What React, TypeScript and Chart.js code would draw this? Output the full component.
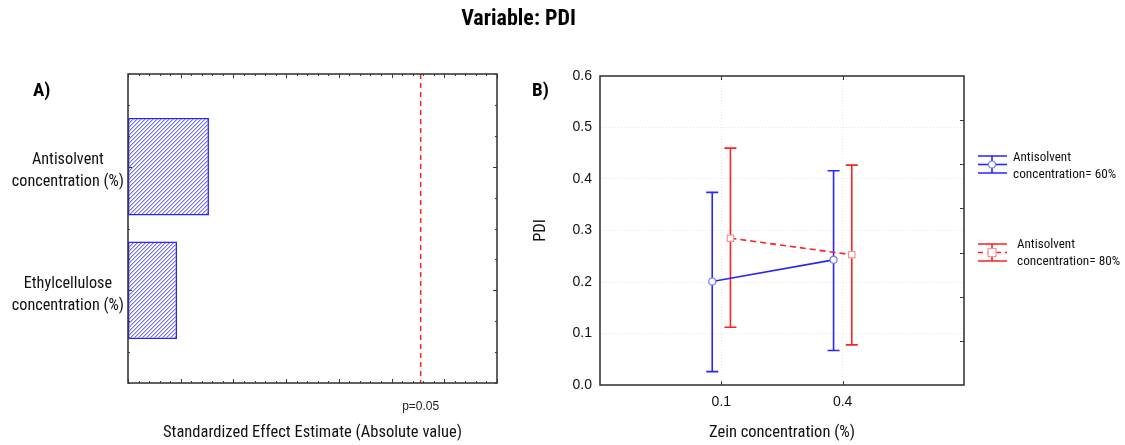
import React, { useEffect, useRef } from 'react';
import { Chart, registerables } from 'chart.js';

Chart.register(...registerables);

const NARROW = '"Roboto Condensed", "Open Sans Condensed", "DejaVu Sans Condensed", sans-serif';
const SANS = '"Liberation Sans", Arial, sans-serif';

// ---------- Panel A data ----------
const effectLabels: string[][] = [
  ['Antisolvent', 'concentration (%)'],
  ['Ethylcellulose', 'concentration (%)'],
];
const effectValues = [0.768, 0.465];
const pCritical = 2.776;
const pLabel = 'p=0.05';
const effectAxisMin = 0;
const effectAxisMax = 3.5;

// ---------- Panel B data ----------
const zeinLabels = ['0.1', '0.4'];
const series60Mean = [0.201, 0.243];
const series60Low = [0.026, 0.067];
const series60High = [0.374, 0.416];
const series80Mean = [0.285, 0.253];
const series80Low = [0.112, 0.078];
const series80High = [0.46, 0.427];
const pdiTicks = [0, 0.1, 0.2, 0.3, 0.4, 0.5, 0.6];
const legendLabels: string[][] = [
  ['Antisolvent', 'concentration= 60%'],
  ['Antisolvent', 'concentration= 80%'],
];

const BLUE = '#2626ff';
const RED = '#ff2020';
const FRAME = '#3a3a3a';
const DODGE = 0.075;
const LABEL_SHIFT = 0.035;

function makeHatch(ctx: CanvasRenderingContext2D) {
  const n = 4;
  const c = document.createElement('canvas');
  c.width = n;
  c.height = n;
  const g = c.getContext('2d')!;
  g.fillStyle = '#ffffff';
  g.fillRect(0, 0, n, n);
  for (let i = 0; i < n; i++) {
    g.fillStyle = 'rgb(115,115,255)';
    g.fillRect(i, n - 1 - i, 1, 1);
    g.fillStyle = 'rgb(190,190,255)';
    g.fillRect((i + 1) % n, n - 1 - i, 1, 1);
  }
  return ctx.createPattern(c, 'repeat');
}

const frameA = {
  id: 'frameA',
  afterDatasetsDraw(chart: any) {
    const { ctx, chartArea: a, scales } = chart;
    const xs = scales.x;
    const ys = scales.y;
    ctx.save();
    ctx.strokeStyle = FRAME;
    ctx.lineWidth = 1;
    ctx.beginPath();
    for (let k = 0; k <= 35; k++) {
      const px = Math.round(xs.getPixelForValue(k / 10)) + 0.5;
      const len = k % 5 === 0 ? 4 : 2;
      ctx.moveTo(px, a.top);
      ctx.lineTo(px, a.top + len);
      ctx.moveTo(px, a.bottom);
      ctx.lineTo(px, a.bottom - len);
    }
    for (let k = -3; k <= 7; k++) {
      const py = Math.round(ys.getPixelForValue(k / 4)) + 0.5;
      const len = k % 4 === 0 ? 4 : 2;
      ctx.moveTo(a.left, py);
      ctx.lineTo(a.left + len, py);
      ctx.moveTo(a.right, py);
      ctx.lineTo(a.right - len, py);
    }
    ctx.stroke();
    ctx.lineWidth = 1.6;
    ctx.strokeRect(a.left, a.top, a.right - a.left, a.bottom - a.top);
    ctx.restore();
  },
};

const errorBars = {
  id: 'errorBars',
  beforeDatasetsDraw(chart: any) {
    const { ctx } = chart;
    const ys = chart.scales.y;
    chart.data.datasets.forEach((ds: any, di: number) => {
      const meta = chart.getDatasetMeta(di);
      meta.data.forEach((pt: any, i: number) => {
        const x = pt.x;
        const yl = ys.getPixelForValue(ds.errLow[i]);
        const yh = ys.getPixelForValue(ds.errHigh[i]);
        ctx.save();
        ctx.strokeStyle = ds.borderColor;
        ctx.lineWidth = 1.6;
        ctx.setLineDash([]);
        ctx.beginPath();
        ctx.moveTo(x, yl);
        ctx.lineTo(x, yh);
        ctx.moveTo(x - 6, yl);
        ctx.lineTo(x + 6, yl);
        ctx.moveTo(x - 6, yh);
        ctx.lineTo(x + 6, yh);
        ctx.stroke();
        ctx.restore();
      });
    });
  },
};

const frameB = {
  id: 'frameB',
  afterDatasetsDraw(chart: any) {
    const { ctx, chartArea: a, scales } = chart;
    const xs = scales.x;
    const ys = scales.y;
    ctx.save();
    ctx.strokeStyle = FRAME;
    ctx.lineWidth = 1;
    ctx.beginPath();
    zeinLabels.forEach((_, i) => {
      const px = Math.round(xs.getPixelForValue(i + 1)) + 0.5;
      ctx.moveTo(px, a.top);
      ctx.lineTo(px, a.top + 4);
      ctx.moveTo(px, a.bottom);
      ctx.lineTo(px, a.bottom - 4);
    });
    for (let k = 1; k < 7; k++) {
      const py = Math.round(ys.getPixelForValue((0.6 * k) / 7)) + 0.5;
      ctx.moveTo(a.right, py);
      ctx.lineTo(a.right - 4, py);
    }
    ctx.stroke();
    ctx.lineWidth = 1.6;
    ctx.strokeRect(a.left, a.top, a.right - a.left, a.bottom - a.top);
    ctx.restore();
  },
};

const legendB = {
  id: 'legendB',
  afterDraw(chart: any) {
    const { ctx } = chart;
    const x0 = 458;
    const x1 = 487;
    const cx = 472;
    const items = [
      { color: BLUE, top: 156, mid: 164.5, bot: 173, tx: 493, ty1: 158, ty2: 175, dashed: false, square: false, marker: '#7a7aff' },
      { color: RED, top: 244, mid: 252.5, bot: 261, tx: 497, ty1: 245, ty2: 262, dashed: true, square: true, marker: '#ff9090' },
    ];
    items.forEach((it, idx) => {
      ctx.save();
      ctx.strokeStyle = it.color;
      ctx.lineWidth = 1.6;
      ctx.beginPath();
      ctx.moveTo(x0, it.top);
      ctx.lineTo(x1, it.top);
      ctx.moveTo(x0, it.bot);
      ctx.lineTo(x1, it.bot);
      ctx.moveTo(cx, it.top);
      ctx.lineTo(cx, it.bot);
      ctx.stroke();
      if (it.dashed) ctx.setLineDash([5, 4]);
      ctx.beginPath();
      ctx.moveTo(x0, it.mid);
      ctx.lineTo(x1, it.mid);
      ctx.stroke();
      ctx.setLineDash([]);
      ctx.fillStyle = '#ffffff';
      ctx.strokeStyle = it.marker;
      ctx.lineWidth = 1.2;
      ctx.beginPath();
      if (it.square) ctx.rect(cx - 4, it.mid - 4, 8, 8);
      else ctx.arc(cx, it.mid, 3.5, 0, Math.PI * 2);
      ctx.fill();
      ctx.stroke();
      ctx.fillStyle = '#111111';
      ctx.font = `13.3px ${NARROW}`;
      ctx.textBaseline = 'middle';
      ctx.textAlign = 'left';
      ctx.fillText(legendLabels[idx][0], it.tx, it.ty1, 58);
      ctx.fillText(legendLabels[idx][1], it.tx, it.ty2, 106);
      ctx.restore();
    });
  },
};

function PanelA() {
  const ref = useRef<HTMLCanvasElement>(null);
  useEffect(() => {
    const canvas = ref.current!;
    const ctx = canvas.getContext('2d')!;
    const hatch = makeHatch(ctx);
    const chart = new Chart(canvas, {
      type: 'bar',
      data: {
        datasets: [
          {
            type: 'bar',
            data: effectValues.map((v, i) => ({ x: v, y: i })) as any,
            backgroundColor: hatch as any,
            borderColor: BLUE,
            borderWidth: 1.6,
            borderSkipped: false,
            barPercentage: 0.79,
            categoryPercentage: 1,
            order: 2,
          } as any,
          {
            type: 'line',
            data: [
              { x: pCritical, y: -0.75 },
              { x: pCritical, y: 1.75 },
            ] as any,
            borderColor: RED,
            borderWidth: 1.5,
            borderDash: [5, 4],
            pointRadius: 0,
            order: 1,
          } as any,
        ],
      },
      options: {
        indexAxis: 'y',
        responsive: false,
        animation: false,
        layout: { padding: { left: 0, right: 23, top: 74, bottom: 0 } },
        plugins: { legend: { display: false }, tooltip: { enabled: false } },
        scales: {
          x: {
            type: 'linear',
            position: 'bottom',
            min: effectAxisMin,
            max: effectAxisMax,
            offset: false,
            grid: { display: false },
            border: { display: false },
            afterBuildTicks: (s: any) => {
              s.ticks = [{ value: pCritical }];
            },
            ticks: {
              callback: () => pLabel,
              font: { family: SANS, size: 12 },
              color: '#222',
              padding: 8,
              maxRotation: 0,
              autoSkip: false,
            },
            title: {
              display: true,
              text: 'Standardized Effect Estimate (Absolute value)',
              font: { family: NARROW, size: 16.5, lineHeight: 1.2 },
              color: '#111',
              padding: { top: 0, bottom: 2 },
            },
            afterFit: (s: any) => {
              s.height = 62;
            },
          },
          y: {
            type: 'linear',
            min: -0.75,
            max: 1.75,
            reverse: true,
            offset: false,
            grid: { display: false },
            border: { display: false },
            afterBuildTicks: (s: any) => {
              s.ticks = effectLabels.map((_, i) => ({ value: i + LABEL_SHIFT }));
            },
            ticks: {
              callback: (v: any) => effectLabels[Math.round(Number(v))] ?? '',
              crossAlign: 'center',
              padding: -4,
              font: { family: NARROW, size: 16.2, lineHeight: 1.36 },
              color: '#111',
              autoSkip: false,
            },
            afterFit: (s: any) => {
              s.width = 128;
            },
          },
        },
      } as any,
      plugins: [frameA],
    });
    return () => chart.destroy();
  }, []);
  return (
    <canvas
      ref={ref}
      width={520}
      height={445}
      style={{ position: 'absolute', left: 0, top: 0, width: 520, height: 445 }}
    />
  );
}

function PanelB() {
  const ref = useRef<HTMLCanvasElement>(null);
  useEffect(() => {
    const canvas = ref.current!;
    const chart = new Chart(canvas, {
      type: 'line',
      data: {
        datasets: [
          {
            label: legendLabels[0].join(' '),
            data: series60Mean.map((v, i) => ({ x: i + 1 - DODGE, y: v })) as any,
            errLow: series60Low,
            errHigh: series60High,
            borderColor: BLUE,
            borderWidth: 1.6,
            pointStyle: 'circle',
            pointRadius: 3.5,
            pointBackgroundColor: '#ffffff',
            pointBorderColor: '#7a7aff',
            pointBorderWidth: 1.2,
          } as any,
          {
            label: legendLabels[1].join(' '),
            data: series80Mean.map((v, i) => ({ x: i + 1 + DODGE, y: v })) as any,
            errLow: series80Low,
            errHigh: series80High,
            borderColor: RED,
            borderWidth: 1.6,
            borderDash: [6, 4],
            pointStyle: 'rect',
            pointRadius: 4.5,
            pointBackgroundColor: '#ffffff',
            pointBorderColor: '#ff9090',
            pointBorderWidth: 1.2,
          } as any,
        ],
      },
      options: {
        responsive: false,
        animation: false,
        layout: { padding: { left: 0, right: 161, top: 76, bottom: 0 } },
        plugins: { legend: { display: false }, tooltip: { enabled: false } },
        scales: {
          x: {
            type: 'linear',
            min: 0,
            max: zeinLabels.length + 1,
            grid: { color: '#e2e6ef', drawTicks: false },
            border: { display: false, dash: [1, 2] },
            afterBuildTicks: (s: any) => {
              s.ticks = zeinLabels.map((_, i) => ({ value: i + 1 }));
            },
            ticks: {
              callback: (v: any) => zeinLabels[Math.round(Number(v)) - 1] ?? '',
              font: { family: SANS, size: 14 },
              color: '#111',
              padding: 9,
              maxRotation: 0,
              autoSkip: false,
            },
            title: {
              display: true,
              text: 'Zein concentration (%)',
              font: { family: NARROW, size: 16.5, lineHeight: 1.2 },
              color: '#111',
              padding: { top: 0, bottom: 2 },
            },
            afterFit: (s: any) => {
              s.height = 60;
            },
          },
          y: {
            type: 'linear',
            min: pdiTicks[0],
            max: pdiTicks[pdiTicks.length - 1],
            grid: {
              color: (c: any) => {
                const v = c.tick ? c.tick.value : 0;
                return v <= 0 || v >= 0.6 ? 'rgba(0,0,0,0)' : '#e2e6ef';
              },
              drawTicks: false,
            },
            border: { display: false, dash: [1, 2] },
            afterBuildTicks: (s: any) => {
              s.ticks = pdiTicks.map((v) => ({ value: v }));
            },
            ticks: {
              callback: (v: any) => Number(v).toFixed(1),
              font: { family: SANS, size: 14 },
              color: '#111',
              padding: 8,
              autoSkip: false,
            },
            title: {
              display: true,
              text: 'PDI',
              font: { family: NARROW, size: 16.5, lineHeight: 1.2 },
              color: '#111',
              padding: { top: 11, bottom: 0 },
            },
            afterFit: (s: any) => {
              s.width = 80;
            },
          },
        },
      } as any,
      plugins: [errorBars, frameB, legendB],
    });
    return () => chart.destroy();
  }, []);
  return (
    <canvas
      ref={ref}
      width={605}
      height={445}
      style={{ position: 'absolute', left: 520, top: 0, width: 605, height: 445 }}
    />
  );
}

export default function App() {
  return (
    <div
      style={{
        position: 'absolute',
        left: 0,
        top: 0,
        width: 1125,
        height: 445,
        background: '#ffffff',
        overflow: 'hidden',
      }}
    >
      <PanelA />
      <PanelB />
      <div
        style={{
          position: 'absolute',
          left: 0,
          top: 5,
          width: 1037,
          textAlign: 'center',
          font: `bold 22px/26px ${NARROW}`,
          color: '#000',
        }}
      >
        Variable: PDI
      </div>
      <div
        style={{
          position: 'absolute',
          left: 33,
          top: 78,
          font: `bold 19px/24px ${NARROW}`,
          color: '#000',
        }}
      >
        A)
      </div>
      <div
        style={{
          position: 'absolute',
          left: 532,
          top: 78,
          font: `bold 19px/24px ${NARROW}`,
          color: '#000',
        }}
      >
        B)
      </div>
    </div>
  );
}
